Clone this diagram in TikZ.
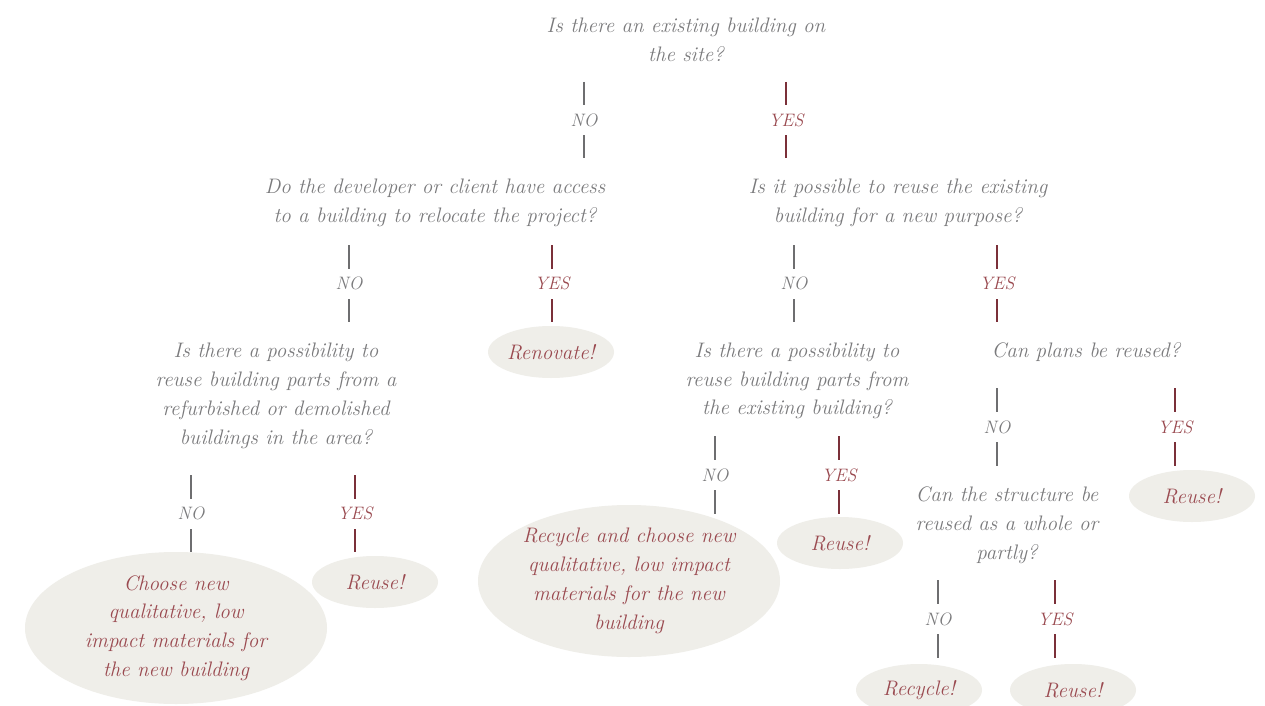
\documentclass[tikz,border=0pt]{standalone}
\usetikzlibrary{shapes.geometric}
\definecolor{askgray}{HTML}{7A7A7C}
\definecolor{answerred}{HTML}{9A4A50}
\definecolor{nogray}{HTML}{6E6E70}
\definecolor{yesred}{HTML}{7B3039}
\definecolor{bubble}{HTML}{EFEEE9}

\begin{document}
\begin{tikzpicture}[x=1pt,y=-1pt,
                    question/.style={text=askgray,align=center,inner sep=0pt,
                      font=\fontsize{21}{28.8}\selectfont\itshape},
                    answer/.style={ellipse,fill=bubble,text=answerred,align=center,
                      inner sep=0pt,font=\fontsize{21}{28.8}\selectfont\itshape},
                    small/.style={minimum width=126pt,minimum height=52pt},
                    big/.style={minimum width=302pt,minimum height=152pt},
                    nobranch/.style={draw=nogray,line width=1.5pt},
                    yesbranch/.style={draw=yesred,line width=1.5pt},
                    nolabel/.style={fill=white,text=askgray,inner sep=0pt,minimum height=30pt,
                      font=\fontsize{18}{20}\selectfont\itshape},
                    yeslabel/.style={nolabel,text=answerred}]
  \useasboundingbox[fill=white] (0,0) rectangle (1265,706);

  % questions
  \node[question] (site)      at (686,40)  {Is there an existing building on\\the site?};
  \node[question] (relocate)  at (435,203) {Do the developer or client have access\\to a building to relocate the project?};
  \node[question] (purpose)   at (898,203) {Is it possible to reuse the existing\\building for a new purpose?};
  \node[question] (areaparts) at (276,396) {Is there a possibility to\\reuse building parts from a\\refurbished or demolished\\buildings in the area?};
  \node[question] (ownparts)  at (797,381) {Is there a possibility to\\reuse building parts from\\the existing building?};
  \node[question] (plans)     at (1086,352) {Can plans be reused?};
  \node[question] (structure) at (1007,525) {Can the structure be\\reused as a whole or\\partly?};

  % answers
  \node[answer,small] (renovate)  at (551,352)  {Renovate!};
  \node[answer,big]   (choosenew) at (176,628)  {Choose new\\qualitative, low\\impact materials for\\the new building};
  \node[answer,small] (reusearea) at (375,582)  {Reuse!};
  \node[answer,big]   (recyclenew) at (629,581) {Recycle and choose new\\qualitative, low impact\\materials for the new\\building};
  \node[answer,small] (reuseown)  at (840,543)  {Reuse!};
  \node[answer,small] (reuseplans) at (1192,496) {Reuse!};
  \node[answer,small] (recycle)   at (919,690)  {Recycle!};
  \node[answer,small] (reusestruct) at (1073,690) {Reuse!};

  % branches
  \coordinate (n1a) at (584,82);   \coordinate (n1b) at (584,158);
  \coordinate (y1a) at (786,82);   \coordinate (y1b) at (786,158);
  \coordinate (n2a) at (349,245);  \coordinate (n2b) at (349,322);
  \coordinate (y2a) at (552,245);  \coordinate (y2b) at (552,322);
  \coordinate (n3a) at (794,245);  \coordinate (n3b) at (794,322);
  \coordinate (y3a) at (997,245);  \coordinate (y3b) at (997,322);
  \coordinate (n4a) at (191,475);  \coordinate (n4b) at (191,552);
  \coordinate (y4a) at (355,475);  \coordinate (y4b) at (355,552);
  \coordinate (n5a) at (715,436);  \coordinate (n5b) at (715,514);
  \coordinate (y5a) at (839,436);  \coordinate (y5b) at (839,514);
  \coordinate (n6a) at (997,388);  \coordinate (n6b) at (997,466);
  \coordinate (y6a) at (1175,388); \coordinate (y6b) at (1175,466);
  \coordinate (n7a) at (938,580);  \coordinate (n7b) at (938,658);
  \coordinate (y7a) at (1055,580); \coordinate (y7b) at (1055,658);

  \draw[nobranch]  (n1a) -- node[nolabel]  {NO}  (n1b);
  \draw[yesbranch] (y1a) -- node[yeslabel] {YES} (y1b);
  \draw[nobranch]  (n2a) -- node[nolabel]  {NO}  (n2b);
  \draw[yesbranch] (y2a) -- node[yeslabel] {YES} (y2b);
  \draw[nobranch]  (n3a) -- node[nolabel]  {NO}  (n3b);
  \draw[yesbranch] (y3a) -- node[yeslabel] {YES} (y3b);
  \draw[nobranch]  (n4a) -- node[nolabel]  {NO}  (n4b);
  \draw[yesbranch] (y4a) -- node[yeslabel] {YES} (y4b);
  \draw[nobranch]  (n5a) -- node[nolabel]  {NO}  (n5b);
  \draw[yesbranch] (y5a) -- node[yeslabel] {YES} (y5b);
  \draw[nobranch]  (n6a) -- node[nolabel]  {NO}  (n6b);
  \draw[yesbranch] (y6a) -- node[yeslabel] {YES} (y6b);
  \draw[nobranch]  (n7a) -- node[nolabel]  {NO}  (n7b);
  \draw[yesbranch] (y7a) -- node[yeslabel] {YES} (y7b);
\end{tikzpicture}
\end{document}
